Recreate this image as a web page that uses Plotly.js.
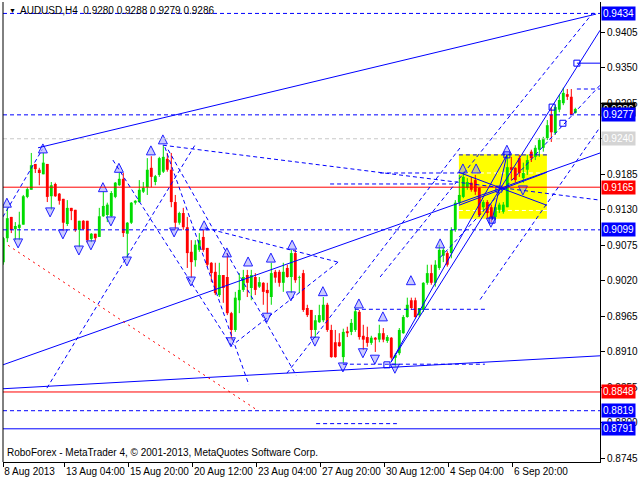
<!DOCTYPE html>
<html><head><meta charset="utf-8">
<script src="https://cdn.plot.ly/plotly-3.0.1.min.js"></script>
<style>html,body{margin:0;padding:0;background:#fff}#c{width:640px;height:480px}</style>
</head><body><div id="c"></div>
<script>
// ---- data (AUDUSD H4, bar index 0..143) ----
const openP = [.9049,.9086,.9119,.9100,.9102,.9107,.9150,.9161,.9201,.9192,
.9185,.9201,.9151,.9170,.9155,.9147,.9108,.9133,.9130,.9099,
.9113,.9113,.9085,.9093,.9088,.9120,.9122,.9120,.9150,.9168,
.9178,.9093,.9110,.9141,.9142,.9158,.9165,.9195,.9173,.9184,
.9189,.9209,.9192,.9142,.9110,.9125,.9103,.9065,.9052,.9068,
.9088,.9071,.9048,.9034,.8998,.9029,.9026,.8970,.8944,.8990,
.9006,.9029,.9009,.9026,.9011,.9017,.9006,.8995,.9034,.9034,
.9017,.9040,.9026,.9063,.9025,.9032,.8978,.8975,.8944,.8956,
.8959,.8983,.8944,.8925,.8925,.8902,.8942,.8941,.8944,.8972,
.8935,.8933,.8924,.8932,.8929,.8939,.8927,.8932,.8901,.8908,
.8939,.8964,.8990,.8990,.8967,.8975,.9017,.9032,.9017,.9040,
.9059,.9063,.9063,.9099,.9141,.9150,.9164,.9172,.9176,.9164,
.9134,.9142,.9134,.9119,.9130,.9127,.9134,.9196,.9195,.9210,
.9179,.9192,.9220,.9212,.9223,.9226,.9241,.9277,.9249,.9285,
.9295,.9309,.9305,.9280];
const highP = [.9088,.9133,.9119,.9111,.9127,.9153,.9165,.9218,.9201,.9195,
.9218,.9201,.9173,.9172,.9156,.9147,.9145,.9133,.9130,.9113,
.9114,.9113,.9094,.9093,.9133,.9158,.9141,.9159,.9173,.9187,
.9187,.9111,.9142,.9145,.9176,.9173,.9210,.9213,.9184,.9212,
.9230,.9218,.9218,.9153,.9127,.9133,.9119,.9083,.9083,.9094,
.9099,.9071,.9049,.9048,.9048,.9029,.9063,.8972,.9003,.9032,
.9037,.9037,.9037,.9032,.9026,.9018,.9017,.9048,.9037,.9037,
.9048,.9045,.9068,.9068,.9028,.9037,.8983,.8975,.8967,.8983,
.8995,.8986,.8952,.8944,.8939,.8946,.8949,.8961,.8978,.8975,
.8952,.8949,.8935,.8933,.8952,.8947,.8936,.8933,.8908,.8947,
.8967,.8994,.8994,.8994,.8978,.9018,.9045,.9045,.9052,.9076,
.9071,.9066,.9103,.9145,.9184,.9189,.9179,.9181,.9184,.9165,
.9145,.9145,.9138,.9138,.9141,.9142,.9215,.9212,.9196,.9215,
.9203,.9215,.9223,.9230,.9241,.9243,.9269,.9289,.9292,.9308,
.9319,.9317,.9317,.9288];
const lowP = [.9045,.9080,.9094,.9083,.9083,.9107,.9148,.9161,.9187,.9168,
.9185,.9142,.9130,.9150,.9138,.9097,.9105,.9114,.9096,.9072,
.9099,.9079,.9080,.9082,.9088,.9119,.9111,.9119,.9148,.9167,
.9088,.9055,.9108,.9138,.9141,.9156,.9153,.9165,.9168,.9181,
.9187,.9189,.9134,.9099,.9107,.9099,.9040,.9025,.9042,.9065,
.9065,.9042,.9018,.8998,.8995,.8986,.8967,.8929,.8941,.8970,
.9003,.8995,.8990,.8998,.9009,.8983,.8970,.8983,.9017,.9011,
.9003,.9025,.9001,.9017,.9001,.8972,.8964,.8932,.8932,.8955,
.8956,.8941,.8901,.8901,.8918,.8893,.8933,.8936,.8941,.8929,
.8913,.8918,.8921,.8910,.8925,.8925,.8924,.8898,.8887,.8905,
.8938,.8963,.8975,.8963,.8964,.8972,.9014,.9014,.9011,.9037,
.9049,.9042,.9055,.9096,.9138,.9148,.9161,.9158,.9153,.9119,
.9127,.9117,.9111,.9114,.9125,.9124,.9134,.9176,.9172,.9181,
.9172,.9184,.9204,.9207,.9212,.9220,.9238,.9235,.9246,.9281,
.9292,.9300,.9277,.9279];
const closeP = [.9086,.9117,.9099,.9105,.9107,.9151,.9162,.9199,.9193,.9187,
.9203,.9150,.9168,.9151,.9144,.9110,.9133,.9128,.9099,.9113,
.9100,.9083,.9093,.9086,.9120,.9136,.9138,.9156,.9172,.9178,
.9094,.9110,.9141,.9144,.9161,.9164,.9192,.9181,.9182,.9210,
.9212,.9192,.9142,.9110,.9125,.9103,.9063,.9049,.9076,.9083,
.9068,.9045,.9032,.9001,.9029,.9009,.8970,.8944,.8994,.9006,
.9026,.9017,.9029,.9006,.9018,.9003,.9001,.9032,.9025,.9017,
.9034,.9026,.9063,.9021,.9026,.8975,.8967,.8944,.8959,.8967,
.8983,.8944,.8902,.8902,.8919,.8941,.8939,.8955,.8973,.8933,
.8929,.8924,.8932,.8929,.8939,.8929,.8933,.8901,.8905,.8944,
.8964,.8983,.8978,.8964,.8978,.9017,.9032,.9017,.9045,.9068,
.9068,.9045,.9099,.9141,.9153,.9181,.9173,.9161,.9158,.9122,
.9142,.9125,.9119,.9134,.9138,.9138,.9196,.9192,.9176,.9187,
.9187,.9207,.9210,.9226,.9238,.9241,.9261,.9250,.9289,.9300,
.9311,.9305,.9277,.9286];

const xTickIdx = [0, 15.4, 31.4, 47.4, 63.4, 79.4, 95.4, 111.4, 127.4];
const xTickLabels = ["8 Aug 2013","13 Aug 04:00","15 Aug 20:00","20 Aug 12:00","23 Aug 04:00",
  "27 Aug 20:00","30 Aug 12:00","4 Sep 04:00","6 Sep 20:00"];
const yTicks = [0.8745,0.8800,0.8855,0.8910,0.8965,0.9020,0.9075,0.9130,0.9185,0.9240,0.9295,0.9350,0.9405];
const yTickHidden = [0.9240]; // fully covered by its price label in the reference

// horizontal levels [price, colour, dash]
const levels = [[0.9434,'#0000ff','dash'],[0.9277,'#0000ff','dash'],[0.9240,'#c8c8c8','dash'],
  [0.9165,'#ff0000','solid'],[0.9099,'#0000ff','dash'],[0.8848,'#ff0000','solid'],
  [0.8819,'#0000ff','dash'],[0.8791,'#0000ff','solid']];
// price labels on the right [price, bg, fg]
const priceLabels = [[0.9434,'#0000ff','#fff'],[0.9286,'#000000','#fff'],[0.9277,'#0000ff','#fff'],
  [0.9240,'#d4d4d4','#fff'],[0.9165,'#ff0000','#fff'],[0.9099,'#0000ff','#fff'],
  [0.8848,'#ff0000','#fff'],[0.8819,'#0000ff','#fff'],[0.8791,'#0000ff','#fff']];
// trend lines [i0,p0,i1,p1]
const solidLines = [[8.68,0.9226,148.2,0.9433],[-0.1,0.8890,149.2,0.9218],[-0.1,0.8853,149.2,0.8904],
  [96.9,0.8894,149.2,0.9408],[96.9,0.8894,125.9,0.9215],
  [113.9,0.9188,135.9,0.9137],[113.9,0.9137,135.9,0.9188],[125.9,0.9215,122.2,0.9114],
  [143.4,0.9357,149.2,0.9357]];
const dashLines = [[-0.1,0.9119,9.7,0.9223],[10.9,0.8854,48.2,0.9233],[39.9,0.9230,149.2,0.9145],
  [40.4,0.9227,61.4,0.8859],[41.2,0.9223,73.2,0.8874],[27.4,0.9207,57.2,0.8918],
  [50.4,0.9102,83.7,0.9049],[83.7,0.9049,57.4,0.8921],[70.9,0.8877,114.2,0.9226],
  [94.2,0.9026,147.4,0.9435],[109.2,0.9056,149.2,0.9323],[119.2,0.8991,149.2,0.9258],
  [87.9,0.8976,120.4,0.8976],[81.7,0.9170,112.9,0.9170],[94.2,0.9187,113.7,0.9187],
  [84.9,0.8891,120.4,0.8891],[78.2,0.8799,98.4,0.8799],[113.9,0.9215,135.9,0.9215],
  [143.4,0.9317,149.2,0.9317]];
const whiteDash = [[113.9,0.9187,135.9,0.9187],[113.9,0.9129,135.9,0.9129]];
const redDotted = [[1.2,0.9075,63.7,0.8819]];
const yellowBox = [113.9,0.9216,135.9,0.9116];
// fractal markers
const fracUpX = [9.9,0.9,24.9,28.9,36.9,39.9,50.2,55.9,61.2,66.9,72.2,79.9,88.9,94.9,101.9,109.2,114.9,118.2,125.9];
const fracUpY = [0.9232,0.9148,0.9172,0.9202,0.9229,0.9246,0.9113,0.9071,0.9057,0.9063,0.9083,0.9011,0.8992,0.8972,0.9028,0.9085,0.9201,0.9201,0.9230];
const fracDnX = [3.7,11.7,14.9,18.9,21.9,26.9,30.9,42.7,46.9,56.9,65.9,71.9,77.9,84.9,89.9,92.9,97.9,121.9,129.9];
const fracDnY = [0.9071,0.9119,0.9085,0.9060,0.9068,0.9105,0.9043,0.9088,0.9012,0.8918,0.8956,0.8989,0.8919,0.8879,0.8901,0.8891,0.8877,0.9103,0.9153];
const sqX = [95.9,125.9,122.2,123.9,137.2,139.9,143.4];
const sqY = [0.8890,0.9215,0.9114,0.9162,0.9289,0.9264,0.9357];

// ---- build traces ----
const GREEN = '#00dd00', RED = '#ff0000';
const upX=[],upB=[],upH=[],dnX=[],dnB=[],dnH=[],wUx=[],wUy=[],wDx=[],wDy=[];
openP.forEach((o,k)=>{
  const c=closeP[k];
  if(c>=o){upX.push(k);upB.push(o);upH.push(Math.max(c-o,0.00008));wUx.push(k,k,null);wUy.push(lowP[k],highP[k],null);}
  else{dnX.push(k);dnB.push(c);dnH.push(o-c);wDx.push(k,k,null);wDy.push(lowP[k],highP[k],null);}
});
const traces = [
  {type:'scatter',mode:'lines',x:wUx,y:wUy,line:{color:GREEN,width:1},hoverinfo:'skip'},
  {type:'scatter',mode:'lines',x:wDx,y:wDy,line:{color:RED,width:1},hoverinfo:'skip'},
  {type:'bar',x:upX,base:upB,y:upH,width:0.72,marker:{color:GREEN,line:{width:0}}},
  {type:'bar',x:dnX,base:dnB,y:dnH,width:0.72,marker:{color:RED,line:{width:0}}},
  {type:'scatter',mode:'markers',x:fracUpX,y:fracUpY,marker:{symbol:'arrow-up',size:9,color:'rgba(150,150,255,0.5)',line:{color:'#2020ff',width:1}}},
  {type:'scatter',mode:'markers',x:fracDnX,y:fracDnY,marker:{symbol:'arrow-down',size:9,color:'rgba(150,150,255,0.5)',line:{color:'#2020ff',width:1}}},
  {type:'scatter',mode:'markers',x:sqX,y:sqY,marker:{symbol:'square-open',size:6,color:'#0000ff',line:{width:1}}}
];

const shapes = [];
shapes.push({type:'rect',xref:'x',yref:'y',x0:yellowBox[0],y0:yellowBox[1],x1:yellowBox[2],y1:yellowBox[3],fillcolor:'#ffff00',line:{width:0},layer:'below'});
levels.forEach(l=>shapes.push({type:'line',xref:'paper',yref:'y',x0:0,x1:1,y0:l[0],y1:l[0],line:{color:l[1],width:1,dash:l[2]==='dash'?'4px,3px':'solid'}}));
solidLines.forEach(s=>shapes.push({type:'line',xref:'x',yref:'y',x0:s[0],y0:s[1],x1:s[2],y1:s[3],line:{color:'#0000ff',width:1}}));
dashLines.forEach(s=>shapes.push({type:'line',xref:'x',yref:'y',x0:s[0],y0:s[1],x1:s[2],y1:s[3],line:{color:'#0000ff',width:1,dash:'4px,3px'}}));
whiteDash.forEach(s=>shapes.push({type:'line',xref:'x',yref:'y',x0:s[0],y0:s[1],x1:s[2],y1:s[3],line:{color:'#ffffff',width:1,dash:'4px,3px'},layer:'below'}));
redDotted.forEach(s=>shapes.push({type:'line',xref:'x',yref:'y',x0:s[0],y0:s[1],x1:s[2],y1:s[3],line:{color:'#ff0000',width:1,dash:'2px,4px'}}));
shapes.push({type:'line',xref:'paper',yref:'paper',x0:0,x1:0,y0:0,y1:1,line:{color:'#000',width:1}});

const FONT = 'Liberation Sans, Arial, sans-serif';
const annotations = priceLabels.map(p=>({xref:'paper',yref:'y',x:1,y:p[0],xanchor:'left',yanchor:'middle',xshift:1,
  text:p[0].toFixed(4),showarrow:false,bgcolor:p[1],borderpad:1,font:{family:FONT,size:10,color:p[2]}}));
annotations.push({xref:'paper',yref:'paper',x:0,y:1,xanchor:'left',yanchor:'top',xshift:4,yshift:-3,showarrow:false,
  text:'▼',font:{family:FONT,size:7,color:'#000'}});
annotations.push({xref:'paper',yref:'paper',x:0,y:1,xanchor:'left',yanchor:'top',xshift:15,yshift:-1,showarrow:false,
  text:'AUDUSD,H4  0.9280 0.9288 0.9279 0.9286',font:{family:FONT,size:10,color:'#000'}});
annotations.push({xref:'paper',yref:'paper',x:0,y:0,xanchor:'left',yanchor:'bottom',xshift:2,yshift:2,showarrow:false,
  text:'RoboForex - MetaTrader 4, © 2001-2013, MetaQuotes Software Corp.',font:{family:FONT,size:10,color:'#000'}});

const layout = {
  width:640,height:480,margin:{l:3,r:40,t:2,b:18},paper_bgcolor:'#fff',plot_bgcolor:'#fff',
  showlegend:false,barmode:'overlay',
  xaxis:{range:[-0.075,149.175],tickvals:xTickIdx,ticktext:xTickLabels,ticks:'outside',ticklen:4,tickcolor:'#000',
    showline:true,linecolor:'#000',linewidth:1,showgrid:false,zeroline:false,ticklabelposition:'outside right',
    tickangle:0,automargin:false,tickfont:{family:FONT,size:10,color:'#000'}},
  yaxis:{side:'right',range:[0.87396,0.94517],tickvals:yTicks,
    ticktext:yTicks.map(v=>yTickHidden.includes(v)?'':v.toFixed(4)),ticks:'outside',
    ticklen:4,tickcolor:'#000',showline:true,linecolor:'#000',linewidth:1,showgrid:false,zeroline:false,
    automargin:false,tickfont:{family:FONT,size:10,color:'#000'}},
  shapes:shapes,annotations:annotations
};
Plotly.newPlot('c',traces,layout,{staticPlot:true,displayModeBar:false});
</script></body></html>
